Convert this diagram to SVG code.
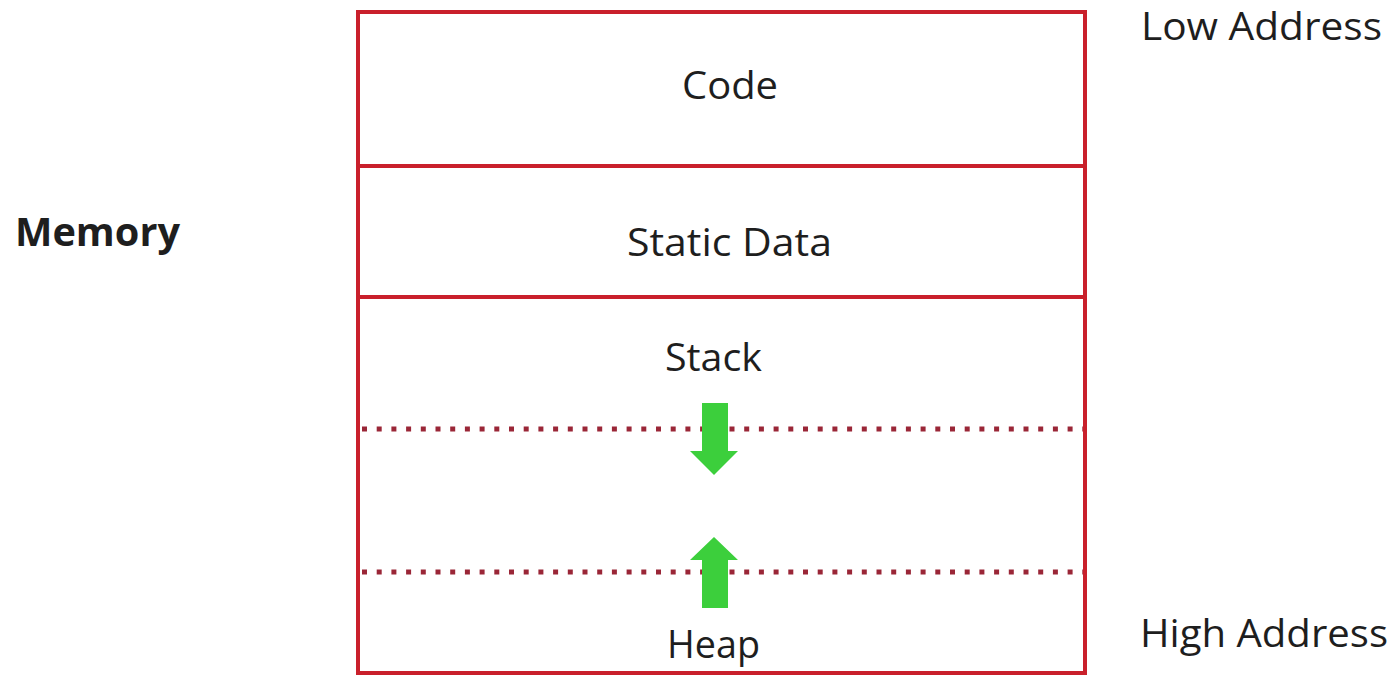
<svg xmlns="http://www.w3.org/2000/svg" width="1398" height="678" viewBox="0 0 1398 678">
<style>
.t{font-family:"Open Sans","Liberation Sans",sans-serif;font-size:38.5px;fill:#1e1e1e;}
.b{font-weight:bold;}
.box{fill:none;stroke:#c9202b;stroke-width:4;}
.dot{stroke:#9a2637;stroke-width:5;stroke-dasharray:5 9.7;fill:none;}
.arr{fill:#3ccf3c;}
</style>
<rect width="1398" height="678" fill="#ffffff"/>
<g id="label-memory"><text class="t b" x="15" y="246" textLength="165" lengthAdjust="spacingAndGlyphs">Memory</text></g>
<g id="label-low"><text class="t" x="1141" y="40" textLength="241" lengthAdjust="spacingAndGlyphs">Low Address</text></g>
<g id="label-high"><text class="t" x="1140" y="647" textLength="248" lengthAdjust="spacingAndGlyphs">High Address</text></g>
<g id="memory">
<rect class="box" x="358" y="12" width="727" height="661"/>
</g>
<g id="code">
<line class="box" x1="358" y1="166" x2="1085" y2="166"/>
<text class="t" x="730" y="99" text-anchor="middle" textLength="96" lengthAdjust="spacingAndGlyphs">Code</text>
</g>
<g id="static">
<line class="box" x1="358" y1="297" x2="1085" y2="297"/>
<text class="t" x="729.5" y="256" text-anchor="middle" textLength="205" lengthAdjust="spacingAndGlyphs">Static Data</text>
</g>
<g id="stack">
<text class="t" x="713.5" y="371" text-anchor="middle" textLength="97" lengthAdjust="spacingAndGlyphs">Stack</text>
<line class="dot" x1="362" y1="429" x2="1083" y2="429"/>
<polygon class="arr" points="702,403 728,403 728,451 738,451 714,475 690,451 702,451"/>
</g>
<g id="heap">
<line class="dot" x1="362" y1="572" x2="1083" y2="572"/>
<polygon class="arr" points="702,608 728,608 728,560 738,560 714,537 690,560 702,560"/>
<text class="t" x="713.5" y="658" text-anchor="middle" textLength="93" lengthAdjust="spacingAndGlyphs">Heap</text>
</g>
<g id="connectors"></g>
</svg>
